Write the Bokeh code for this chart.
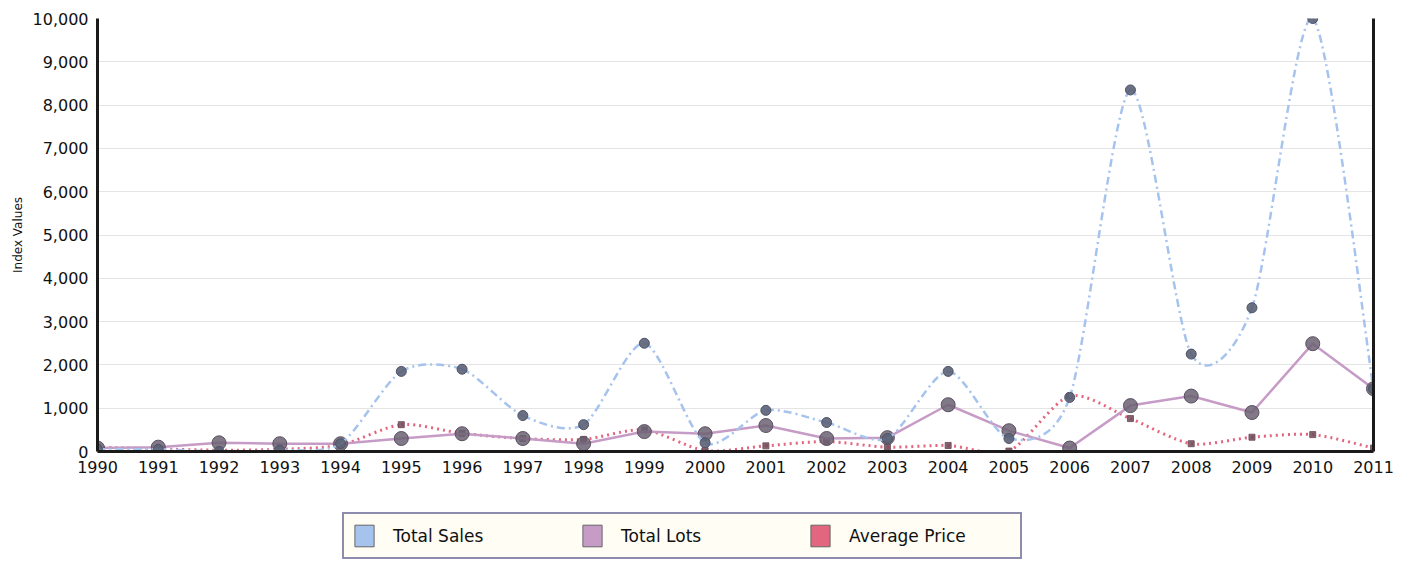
import numpy as np
from bokeh.plotting import figure
from bokeh.layouts import column
from bokeh.models import (Range1d, FixedTicker, NumeralTickFormatter, LinearAxis,
                          Legend, LegendItem)
from bokeh.embed import file_html
from bokeh.resources import INLINE

# ---- data ----
years = list(range(1990, 2012))
total_sales = [50, 50, 0, 30, 180, 1850, 1900, 830, 620, 2500, 200, 950, 670, 300,
               1850, 300, 1250, 8350, 2250, 3320, 10000, 1450]
total_lots = [80, 100, 200, 180, 180, 300, 410, 300, 180, 460, 410, 600, 300, 320,
              1080, 480, 80, 1060, 1280, 900, 2490, 1450]
average_price = [100, 60, 30, 50, 150, 620, 420, 300, 280, 500, 20, 130, 230, 100,
                 140, 10, 1280, 760, 180, 330, 390, 80]
y_ticks = list(range(0, 10001, 1000))
series_names = ["Total Sales", "Total Lots", "Average Price"]

FONT = "DejaVu Sans"


def spline_segments(xs, ys, k):
    """Cubic Bezier control points for a Catmull-Rom style curve through the points."""
    x = np.asarray(xs, float)
    y = np.asarray(ys, float)
    xp = np.concatenate([[x[0]], x, [x[-1]]])
    yp = np.concatenate([[y[0]], y, [y[-1]]])
    mx = (xp[2:] - xp[:-2]) / 2.0
    my = (yp[2:] - yp[:-2]) / 2.0
    return dict(x0=x[:-1], y0=y[:-1], x1=x[1:], y1=y[1:],
                cx0=x[:-1] + mx[:-1] * k / 3.0, cy0=y[:-1] + my[:-1] * k / 3.0,
                cx1=x[1:] - mx[1:] * k / 3.0, cy1=y[1:] - my[1:] * k / 3.0)


p = figure(width=1410, height=490, output_backend="svg", toolbar_location=None,
           x_range=Range1d(years[0], years[-1]), y_range=Range1d(y_ticks[0], y_ticks[-1]),
           min_border_left=97, min_border_right=37, min_border_top=18,
           min_border_bottom=39, background_fill_color="white",
           border_fill_color="white")
p.outline_line_color = None

# grid
p.xgrid.grid_line_color = None
p.ygrid.grid_line_color = "#e4e4e4"
p.ygrid.grid_line_width = 1

# axes
p.xaxis.ticker = FixedTicker(ticks=years)
p.yaxis.ticker = FixedTicker(ticks=y_ticks)
p.yaxis.formatter = NumeralTickFormatter(format="0,0")
for ax in (p.xaxis[0], p.yaxis[0]):
    ax.axis_line_color = "#1a1a1a"
    ax.axis_line_width = 3
    ax.major_tick_line_color = None
    ax.minor_tick_line_color = None
    ax.major_tick_out = 0
    ax.major_tick_in = 0
    ax.major_label_text_font = FONT
    ax.major_label_text_font_size = "16px"
    ax.major_label_text_color = "#111111"
p.xaxis.major_label_standoff = 9
p.yaxis.major_label_standoff = 9
p.yaxis.axis_label = "Index Values"
p.yaxis.axis_label_text_font = FONT
p.yaxis.axis_label_text_font_size = "12px"
p.yaxis.axis_label_text_font_style = "normal"
p.yaxis.axis_label_text_color = "#111111"
p.yaxis.axis_label_standoff = 5

right_axis = LinearAxis(ticker=FixedTicker(ticks=[]), axis_line_color="#1a1a1a",
                        axis_line_width=3, major_tick_line_color=None,
                        minor_tick_line_color=None)
p.add_layout(right_axis, "right")

# ---- series ----
blue = "#a6c3ee"
purple = "#c69cc6"
red = "#e2667f"

# Average Price (dotted, smoothed)
p.bezier(**spline_segments(years, average_price, 0.8),
         line_color=red, line_width=3, line_dash="2 4")
p.scatter(years, average_price, marker="square", size=6, color="#6e4a58", alpha=0.85)

# Total Lots (solid, straight)
p.line(years, total_lots, line_color=purple, line_width=2.5)
p.scatter(years, total_lots, marker="circle", size=14, fill_color="#6b6272",
          line_color="#5a5060", fill_alpha=0.85)

# Total Sales (dash-dot, smoothed)
p.bezier(**spline_segments(years, total_sales, 0.8),
         line_color=blue, line_width=2.5, line_dash="8 4 2 4")
p.scatter(years, total_sales, marker="circle", size=10, fill_color="#5b6276",
          line_color="#4d5366", fill_alpha=0.9)

# ---- legend strip (separate figure below the chart) ----
lf = figure(width=1410, height=71, output_backend="svg", toolbar_location=None,
            x_range=Range1d(0, 1), y_range=Range1d(0, 1),
            x_axis_type=None, y_axis_type=None,
            min_border_left=0, min_border_right=0, min_border_top=0,
            min_border_bottom=0, background_fill_color="white",
            border_fill_color="white")
lf.outline_line_color = None
lf.grid.visible = False

nan = [float("nan")]
sw_sales = lf.quad(left=nan, right=nan, top=nan, bottom=nan, fill_color=blue,
                   line_color="#666666")
sw_lots = lf.quad(left=nan, right=nan, top=nan, bottom=nan, fill_color=purple,
                  line_color="#666666")
sw_price = lf.quad(left=nan, right=nan, top=nan, bottom=nan, fill_color=red,
                   line_color="#666666")

legend = Legend(items=[LegendItem(label=series_names[0], renderers=[sw_sales]),
                       LegendItem(label=series_names[1], renderers=[sw_lots]),
                       LegendItem(label=series_names[2], renderers=[sw_price])],
                orientation="horizontal", location=(245, 2),
                glyph_width=24, glyph_height=27, label_standoff=17,
                label_width=163, spacing=24, padding=8, margin=0,
                label_text_font=FONT, label_text_font_size="17px",
                label_text_color="#111111",
                background_fill_color="#fffdf4", background_fill_alpha=1,
                border_line_color="#1c1c6a", border_line_width=2)
lf.add_layout(legend, "center")

layout = column(p, lf, spacing=0)
open("out.html", "w").write(file_html(layout, INLINE))
